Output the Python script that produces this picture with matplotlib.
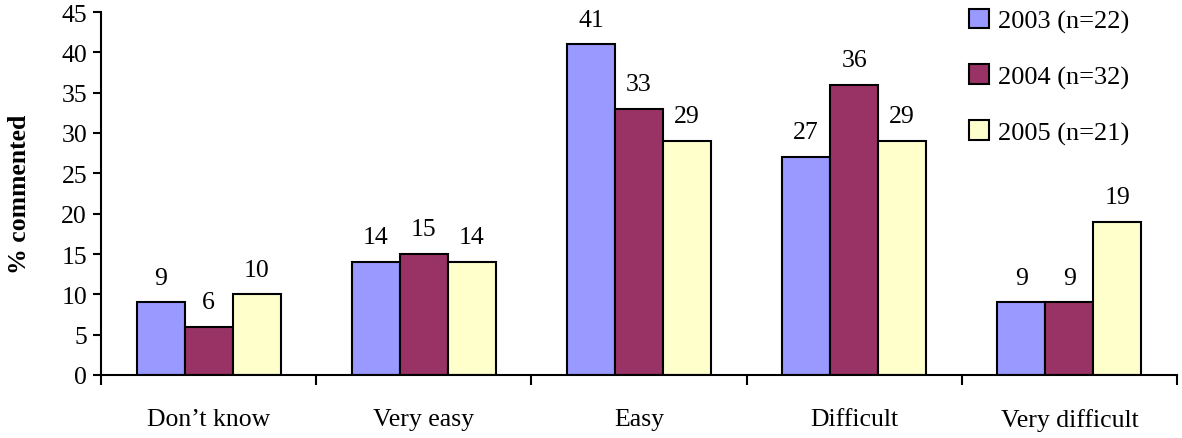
import numpy as np
import matplotlib.pyplot as plt

plt.rcParams['font.family'] = ['Liberation Serif', 'DejaVu Serif']

# dados
categorias = ["Don’t know", "Very easy", "Easy", "Difficult", "Very difficult"]
series = ["2003 (n=22)", "2004 (n=32)", "2005 (n=21)"]
v2003 = [9, 14, 41, 27, 9]
v2004 = [6, 15, 33, 36, 9]
v2005 = [10, 14, 29, 29, 19]
cores = ['#9999FF', '#993366', '#FFFFCC']

fig = plt.figure(figsize=(11.82, 4.39), dpi=100)
ax = fig.add_axes([101 / 1182, 1 - 376 / 439, 1076 / 1182, 363 / 439])

x = np.arange(len(categorias))
larg = 0.223
for i, (nome, vals) in enumerate(zip(series, [v2003, v2004, v2005])):
    pos = x + (i - 1) * larg
    ax.bar(pos, vals, width=larg, color=cores[i], edgecolor='black', linewidth=1.5, label=nome)
    for p, v in zip(pos, vals):
        ax.text(p, v + 1.7, str(v), ha='center', va='bottom', fontsize=18.5)

ax.set_xlim(-0.5, len(categorias) - 0.5)
ax.set_ylim(0, 45)
ax.set_yticks(range(0, 46, 5))
ax.set_xticks(np.arange(len(categorias) + 1) - 0.5)
ax.set_xticklabels([])
ax.set_xticks(x, minor=True)
ax.set_xticklabels(categorias, minor=True)
ax.tick_params(axis='x', which='minor', length=0, pad=24, labelsize=18.5)
ax.tick_params(axis='x', which='major', length=7, width=1.5, direction='out')
ax.tick_params(axis='y', length=6, width=1.5, direction='out', labelsize=18.5, pad=4)

for s in ['top', 'right']:
    ax.spines[s].set_visible(False)
ax.spines['left'].set_linewidth(1.5)
ax.spines['bottom'].set_linewidth(1.5)

ax.set_ylabel('% commented', fontsize=18.5, fontweight='bold', labelpad=22)

ax.legend(loc='upper left', bbox_to_anchor=(0.785, 1.075), frameon=False, fontsize=19,
          labelspacing=1.2, handlelength=0.75, handleheight=0.75, handletextpad=0.35)

fig.savefig('out.png', dpi=100)
